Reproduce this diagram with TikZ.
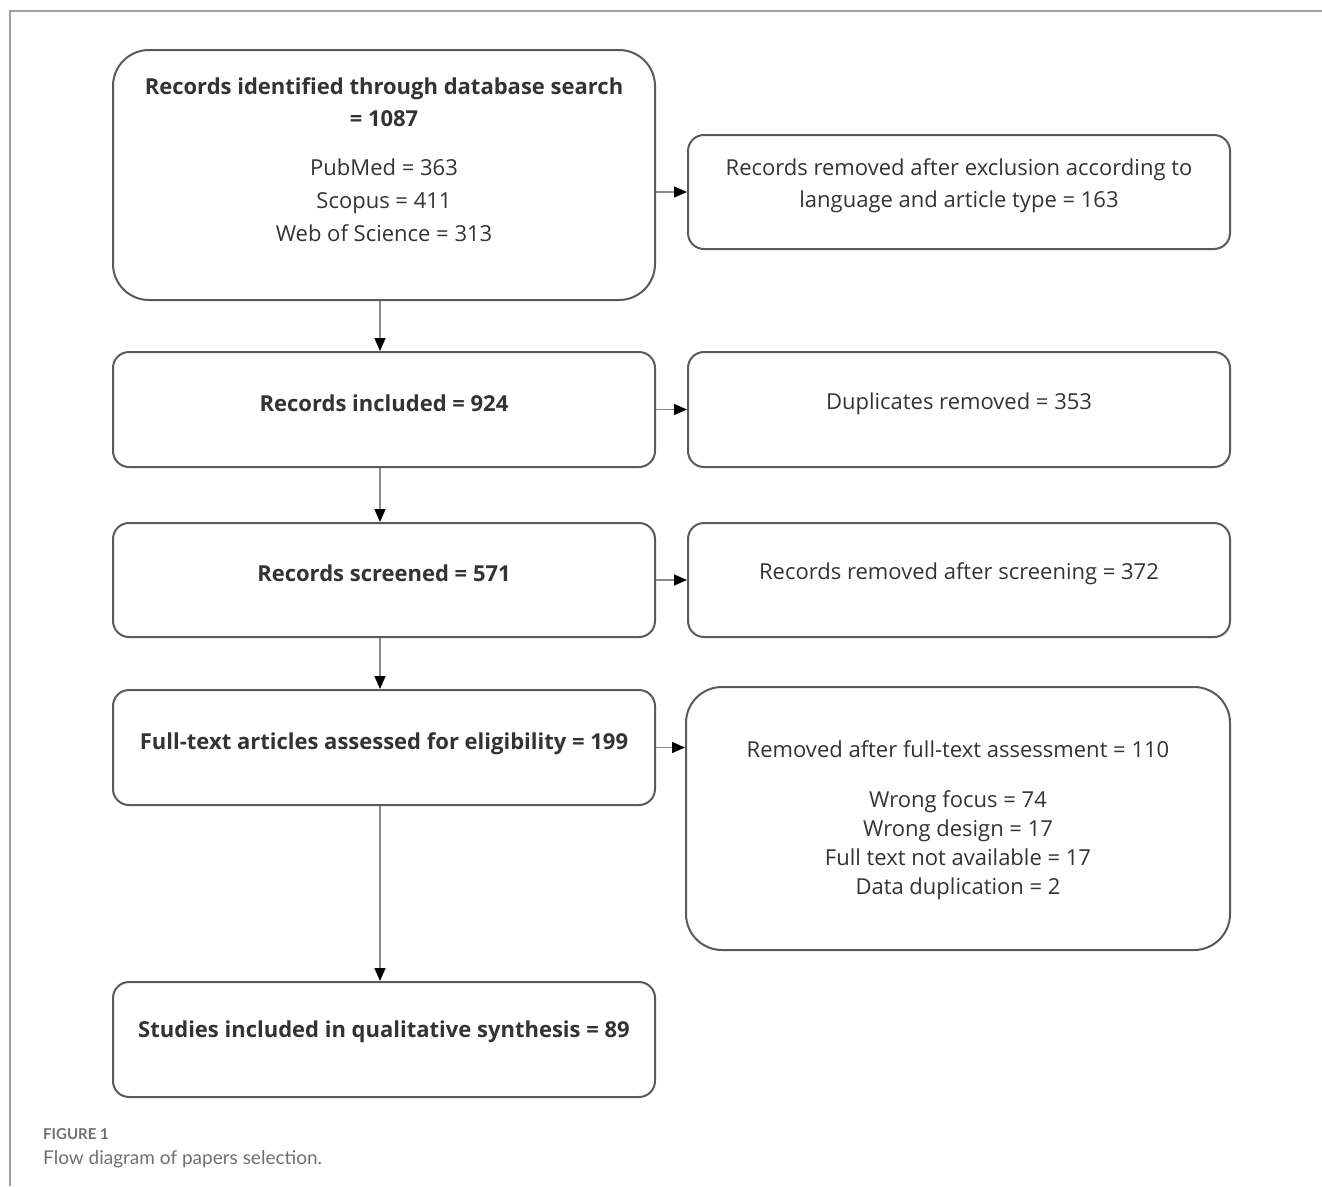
\documentclass[tikz,border=0pt]{standalone}
\usepackage{fontspec}
\setmainfont{Open Sans}
\newfontfamily\capfont{Lato}
\usetikzlibrary{arrows.meta,calc}
\definecolor{txt}{HTML}{333333}
\definecolor{boxline}{HTML}{5A5A5A}
\definecolor{arrline}{HTML}{8A8A8A}
\definecolor{framecol}{HTML}{A0A0A0}
\definecolor{capcol}{HTML}{707070}
\tikzset{
  flowbox/.style={draw=boxline, line width=2pt, rounded corners=16pt, inner sep=0pt},
  bigbox/.style={flowbox, rounded corners=36pt},
  boxtext/.style={text=txt, inner sep=0pt, anchor=base, font=\fontsize{22}{26}\selectfont},
  boldtext/.style={boxtext, font=\fontsize{22}{26}\selectfont\bfseries},
  arr/.style={draw=arrline, line width=1.4pt, -{Triangle[length=13pt,width=11pt,fill=black,color=black]}},
}
\begin{document}
\begin{tikzpicture}[x=1pt,y=-1pt]
\useasboundingbox (0,0) rectangle (1322,1186);
% frame
\draw[framecol, line width=1.5pt] (10,1186) -- (10,11) -- (1322,11);

% left column boxes
\node[bigbox, minimum width=542pt, minimum height=250pt] (b1) at (384,175) {};
\node[flowbox, minimum width=542pt, minimum height=115pt] (b2) at (384,409.5) {};
\node[flowbox, minimum width=542pt, minimum height=114pt] (b3) at (384,580) {};
\node[flowbox, minimum width=542pt, minimum height=115pt] (b4) at (384,747.5) {};
\node[flowbox, minimum width=542pt, minimum height=115pt] (b5) at (384,1039.5) {};

% right column boxes
\node[flowbox, minimum width=542pt, minimum height=114pt] (r1) at (959,192) {};
\node[flowbox, minimum width=542pt, minimum height=115pt] (r2) at (959,409.5) {};
\node[flowbox, minimum width=542pt, minimum height=114pt] (r3) at (959,580) {};
\node[bigbox, minimum width=544pt, minimum height=263pt] (r4) at (958,818.5) {};

% texts
\node[boldtext] (t1a) at (384,94) {Records identified through database search};
\node[boldtext] (t1b) at (384,126) {= 1087};
\node[boxtext] (t1c) at (384,175) {PubMed = 363};
\node[boxtext] (t1d) at (384,208) {Scopus = 411};
\node[boxtext] (t1e) at (384,241) {Web of Science = 313};
\node[boldtext] (t2) at (384,411) {Records included = 924};
\node[boldtext] (t3) at (384,581) {Records screened = 571};
\node[boldtext] (t4) at (384,749) {Full-text articles assessed for eligibility = 199};
\node[boldtext] (t5) at (384,1037) {Studies included in qualitative synthesis = 89};
\node[boxtext] (tr1a) at (959,175) {Records removed after exclusion according to};
\node[boxtext] (tr1b) at (959,207) {language and article type = 163};
\node[boxtext] (tr2) at (959,409) {Duplicates removed = 353};
\node[boxtext] (tr3) at (959,579) {Records removed after screening = 372};
\node[boxtext] (tr4a) at (958,757) {Removed after full-text assessment = 110};
\node[boxtext] (tr4b) at (958,807) {Wrong focus = 74};
\node[boxtext] (tr4c) at (958,836) {Wrong design = 17};
\node[boxtext] (tr4d) at (958,865) {Full text not available = 17};
\node[boxtext] (tr4e) at (958,894) {Data duplication = 2};

% connectors
\draw[arr] ($(b1.south)+(-4,0)$) -- ($(b2.north)+(-4,0)$);
\draw[arr] ($(b2.south)+(-4,0)$) -- ($(b3.north)+(-4,0)$);
\draw[arr] ($(b3.south)+(-4,0)$) -- ($(b4.north)+(-4,0)$);
\draw[arr] ($(b4.south)+(-4,0)$) -- ($(b5.north)+(-4,0)$);
\draw[arr] (b1.east |- r1.west) -- (r1.west);
\draw[arr] (b2.east) -- (r2.west);
\draw[arr] (b3.east) -- (r3.west);
\draw[arr] (b4.east) -- (b4.east -| r4.west);

% caption
\node[anchor=base west, inner sep=0pt, text=capcol, font=\capfont\fontsize{15}{18}\selectfont\bfseries] (cap1) at (43,1139) {FIGURE 1};
\node[anchor=base west, inner sep=0pt, text=capcol, font=\capfont\fontsize{19}{24}\selectfont] (cap2) at (43,1164) {Flow diagram of papers selection.};
\end{tikzpicture}
\end{document}
